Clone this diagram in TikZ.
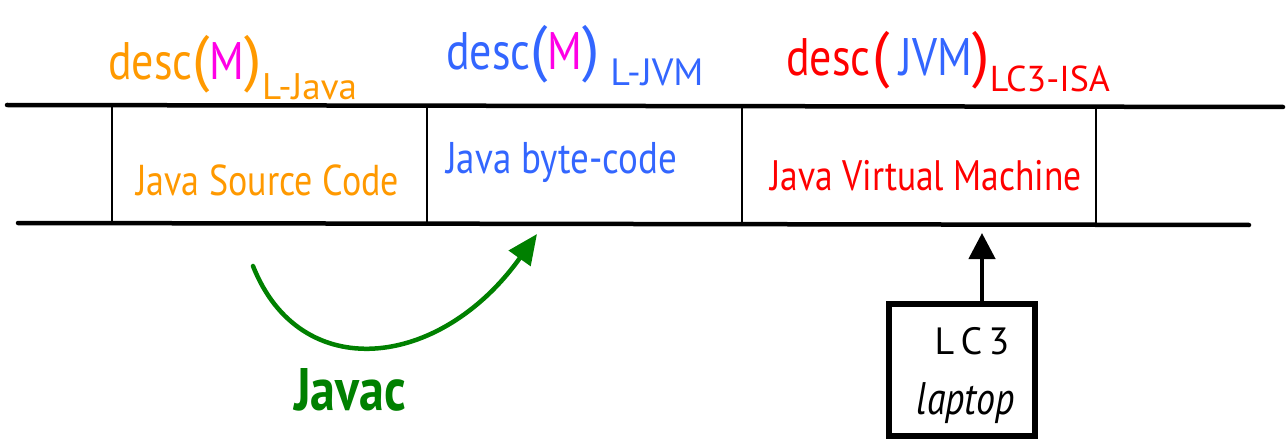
\documentclass[tikz,border=0pt]{standalone}
\usepackage{fontspec}
\setmainfont{PT Sans}
\usetikzlibrary{arrows.meta}
\definecolor{jorange}{RGB}{255,153,0}
\definecolor{jblue}{RGB}{51,102,255}
\definecolor{jmag}{RGB}{255,0,230}
\definecolor{jred}{RGB}{255,0,0}
\definecolor{jgreen}{RGB}{0,128,0}
\newcommand{\fs}[1]{\fontsize{#1}{#1}\selectfont}
\newcommand{\tall}[1]{\scalebox{1}[1.2]{#1}}
\begin{document}
\begin{tikzpicture}[x=1pt,y=-1pt,
  rail/.style={line width=4.5pt,line cap=round},
  divider/.style={line width=2.2pt},
  label/.style={inner sep=0pt,anchor=base west},
  celltext/.style={inner sep=0pt,anchor=base west,font=\fs{36}},
  compile/.style={jgreen,line width=4.5pt,line cap=round,-{Triangle[length=30pt,width=26pt]}},
  support/.style={line width=4.5pt,-{Triangle[length=26pt,width=26pt]}},
  machine/.style={draw,line width=5.5pt,minimum width=146pt,minimum height=132pt,inner sep=0pt}]
\useasboundingbox (0,0) rectangle (1286,441);

% the layered strip
\coordinate (t0) at (7,105);
\coordinate (t1) at (1283,107);
\coordinate (b0) at (18,223);
\coordinate (b1) at (1249,225);
\draw[rail] (t0) -- (t1);
\draw[rail] (b0) -- (b1);
\foreach \x in {112,427,742,1096}
  \draw[divider] (\x,107) -- (\x,223);

% descriptions above the strip
\node[label,jorange] (d1) at (108,80) {\tall{\fs{44}desc}\fs{62}(\textcolor{jmag}{\tall{\fs{44}M}})\raisebox{-20pt}{\fs{37}L-Java}};
\node[label,jblue] (d2) at (446,70) {\tall{\fs{44}desc}\fs{62}(\textcolor{jmag}{\tall{\fs{44}M}})\,\raisebox{-16pt}{\fs{38}L-JVM}};
\node[label,jred] (d3) at (786,76) {\tall{\fs{44}desc}\,\fs{62}(\,\textcolor{jblue}{\tall{\fs{44}JVM}})\raisebox{-16pt}{\fs{36}LC3-ISA}};

% cell contents
\node[celltext,jorange] (src) at (136,196) {\tall{Java Source Code}};
\node[celltext,jblue] (bc) at (446,174) {\tall{\fs{37}Java byte-code}};
\node[celltext,jred] (vm) at (770,190) {\tall{\fs{35.5}Java Virtual Machine}};

% compilation step
\coordinate (c0) at (253,266);
\coordinate (c1) at (537,234);
\draw[compile] (c0) .. controls (300,385) and (440,370) .. (c1);
\node[jgreen,font=\fs{50}\bfseries] (javac) at (350,390) {\tall{Javac}};

% hardware running the VM
\node[machine] (lc3) at (962,370) {};
\node[font=\fs{38}] (lc3a) at (972,341) {L\,C\,3};
\node[font=\fs{38}\itshape] (lc3b) at (966,403) {\tall{laptop}};
\coordinate (vmb) at (982,233);
\draw[support] (lc3.north -| vmb) -- (vmb);
\end{tikzpicture}
\end{document}
